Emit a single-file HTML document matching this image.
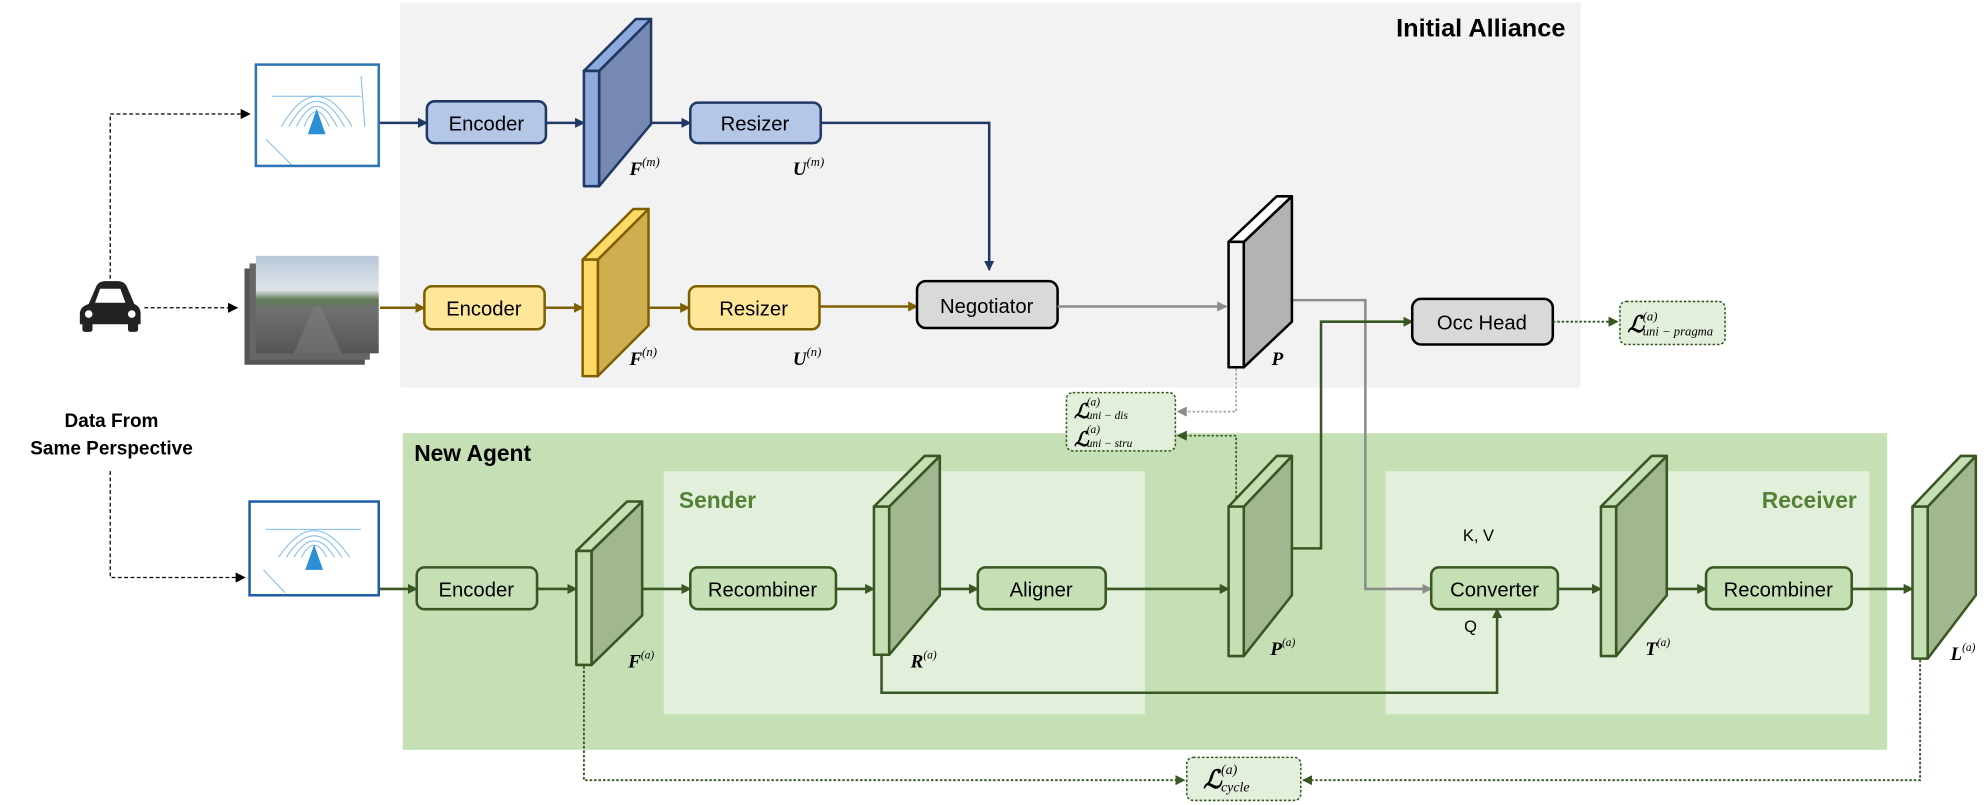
<!DOCTYPE html>
<html><head><meta charset="utf-8"><style>
html,body{margin:0;padding:0;background:#fff;}
svg{display:block;}
.t{font-family:"Liberation Sans","DejaVu Sans",sans-serif;}
.m{font-family:"Liberation Serif","DejaVu Serif",serif;font-style:italic;font-weight:bold;}
.s{font-family:"Liberation Serif","DejaVu Serif",serif;font-style:italic;}
</style></head><body>
<svg width="1986" height="805" viewBox="0 0 1568 635.6" xmlns="http://www.w3.org/2000/svg">
<defs>
<marker id="ab" markerWidth="8" markerHeight="8" refX="7" refY="4" orient="auto" markerUnits="userSpaceOnUse"><path d="M0,0 L8,4 L0,8z" fill="#203864"/></marker>
<marker id="ay" markerWidth="8" markerHeight="8" refX="7" refY="4" orient="auto" markerUnits="userSpaceOnUse"><path d="M0,0 L8,4 L0,8z" fill="#7f6000"/></marker>
<marker id="ag" markerWidth="8" markerHeight="8" refX="7" refY="4" orient="auto" markerUnits="userSpaceOnUse"><path d="M0,0 L8,4 L0,8z" fill="#385723"/></marker>
<marker id="agr" markerWidth="8" markerHeight="8" refX="7" refY="4" orient="auto" markerUnits="userSpaceOnUse"><path d="M0,0 L8,4 L0,8z" fill="#8c8c8c"/></marker>
<marker id="ak" markerWidth="8" markerHeight="8" refX="7" refY="4" orient="auto" markerUnits="userSpaceOnUse"><path d="M0,0 L8,4 L0,8z" fill="#000"/></marker>
<linearGradient id="sky" x1="0" y1="0" x2="0" y2="1"><stop offset="0" stop-color="#b8c8d8"/><stop offset="0.35" stop-color="#dfe5ea"/><stop offset="0.45" stop-color="#5f7a55"/><stop offset="0.55" stop-color="#707070"/><stop offset="1" stop-color="#555"/></linearGradient>
</defs>

<rect x="316" y="2" width="932" height="304" fill="#f2f2f2"/>
<text x="1236" y="29" text-anchor="end" class="t" font-size="20" font-weight="bold">Initial Alliance</text>
<rect x="318" y="342" width="1172" height="250" fill="#c5e0b4"/>
<rect x="524" y="372" width="380" height="192" fill="#e2efda"/>
<rect x="1094" y="372" width="382" height="192" fill="#e2efda"/>
<text x="327" y="364" class="t" font-size="18" font-weight="bold">New Agent</text>
<text x="536" y="401" class="t" font-size="18" font-weight="bold" fill="#548235">Sender</text>
<text x="1466" y="401" text-anchor="end" class="t" font-size="18" font-weight="bold" fill="#548235">Receiver</text>

<g fill="#222">
<path d="M70,240 L76,226 Q78,222 83,222 L93,222 Q98,222 100,226 L106,240 Q111,242 111,248 L111,256 L63,256 L63,248 Q63,242 70,240Z"/>
<rect x="65" y="254" width="8" height="8" rx="2"/><rect x="101" y="254" width="8" height="8" rx="2"/>
</g>
<path d="M75,239 L79,228 L95,228 L99,239Z" fill="#fff"/>
<circle cx="70" cy="248" r="3" fill="#fff"/><circle cx="104" cy="248" r="3" fill="#fff"/>
<text x="88" y="337" text-anchor="middle" class="t" font-size="15" font-weight="bold">Data From</text>
<text x="88" y="359" text-anchor="middle" class="t" font-size="15" font-weight="bold">Same Perspective</text>

<g stroke="#000" stroke-width="1" fill="none" stroke-dasharray="3,2">
<path d="M87,220 L87,90 L197,90" marker-end="url(#ak)"/>
<path d="M114,243 L187,243" marker-end="url(#ak)"/>
<path d="M87,372 L87,456 L193,456" marker-end="url(#ak)"/>
</g>

<g>
<rect x="202" y="51" width="97" height="80" fill="#fff" stroke="#2e75b6" stroke-width="2"/>
<g fill="none" stroke="#7dbbe8" stroke-width="0.8"><path d="M222,100 Q250,52 278,100"/><path d="M228,100 Q250,60 272,100"/><path d="M234,100 Q250,68 266,100"/><path d="M240,100 Q250,76 260,100"/><path d="M215,76 L285,76"/><path d="M210,110 L230,130"/><path d="M285,60 L288,100"/></g>
<path d="M243,106 L250,86 L257,106Z" fill="#2b8fd6"/>
</g>
<g>
<rect x="197" y="396" width="102" height="74" fill="#fff" stroke="#1f5fa8" stroke-width="2"/>
<g fill="none" stroke="#7dbbe8" stroke-width="0.8"><path d="M220,440 Q248,398 276,440"/><path d="M226,440 Q248,406 270,440"/><path d="M232,440 Q248,414 264,440"/><path d="M238,440 Q248,421 258,440"/><path d="M210,418 L285,418"/><path d="M208,450 L225,468"/></g>
<path d="M241,450 L248,430 L255,450Z" fill="#2b8fd6"/>
</g>
<rect x="193" y="212" width="95" height="76" fill="#555"/>
<rect x="197" y="208" width="95" height="76" fill="#666"/>
<rect x="202" y="202" width="97" height="77" fill="url(#sky)"/>
<path d="M232,279 L248,242 L253,242 L270,279Z" fill="#808080" opacity="0.5"/>

<g stroke="#203864" stroke-width="2" fill="none">
<path d="M300,97 L337,97" marker-end="url(#ab)"/>
<path d="M431,97 L461,97" marker-end="url(#ab)"/>
<path d="M514,97 L545,97" marker-end="url(#ab)"/>
<path d="M648,97 L781,97 L781,213" marker-end="url(#ab)"/>
</g>
<rect x="337" y="80" width="94" height="33" rx="6" fill="#b4c7e7" stroke="#203864" stroke-width="2"/>
<text x="384" y="103" text-anchor="middle" class="t" font-size="16">Encoder</text>
<rect x="545" y="81" width="103" height="32" rx="6" fill="#b4c7e7" stroke="#203864" stroke-width="2"/>
<text x="596" y="103" text-anchor="middle" class="t" font-size="16">Resizer</text>
<g stroke="#203864" stroke-width="2" stroke-linejoin="round">
<polygon points="473,56 514,15 514,98 473,147" fill="#7689b2"/>
<polygon points="461,56 502,15 514,15 473,56" fill="#8faadc"/>
<rect x="461" y="56" width="12" height="91" fill="#8faadc"/>
</g>
<text x="497" y="138" class="m" font-size="15">F<tspan class="s" font-weight="normal" font-size="10" dy="-7">(m)</tspan></text>
<text x="626" y="138" class="m" font-size="15">U<tspan class="s" font-weight="normal" font-size="10" dy="-7">(m)</tspan></text>

<g stroke="#7f6000" stroke-width="2" fill="none">
<path d="M300,243 L335,243" marker-end="url(#ay)"/>
<path d="M430,243 L460,243" marker-end="url(#ay)"/>
<path d="M513,243 L544,243" marker-end="url(#ay)"/>
<path d="M647,242 L724,242" marker-end="url(#ay)"/>
</g>
<rect x="335" y="226" width="95" height="34" rx="6" fill="#ffe699" stroke="#7f6000" stroke-width="2"/>
<text x="382" y="249" text-anchor="middle" class="t" font-size="16">Encoder</text>
<rect x="544" y="226" width="103" height="34" rx="6" fill="#ffe699" stroke="#7f6000" stroke-width="2"/>
<text x="595" y="249" text-anchor="middle" class="t" font-size="16">Resizer</text>
<g stroke="#7f6000" stroke-width="2" stroke-linejoin="round">
<polygon points="472,205 512,165 512,257 472,297" fill="#cfae50"/>
<polygon points="460,205 500,165 512,165 472,205" fill="#ffd966"/>
<rect x="460" y="205" width="12" height="92" fill="#ffd966"/>
</g>
<text x="497" y="288" class="m" font-size="15">F<tspan class="s" font-weight="normal" font-size="10" dy="-7">(n)</tspan></text>
<text x="626" y="288" class="m" font-size="15">U<tspan class="s" font-weight="normal" font-size="10" dy="-7">(n)</tspan></text>

<rect x="724" y="222" width="111" height="37" rx="7" fill="#d9d9d9" stroke="#000" stroke-width="2"/>
<text x="779" y="247" text-anchor="middle" class="t" font-size="16">Negotiator</text>

<g stroke="#8c8c8c" stroke-width="2" fill="none">
<path d="M835,242 L968,242" marker-end="url(#agr)"/>
<path d="M1020,237 L1078,237 L1078,465 L1130,465" marker-end="url(#agr)"/>
</g>
<g stroke="#000" stroke-width="2" stroke-linejoin="round">
<polygon points="982,191 1020,155 1020,254 982,290" fill="#b3b3b3"/>
<polygon points="970,191 1008,155 1020,155 982,191" fill="#fff"/>
<rect x="970" y="191" width="12" height="99" fill="#f2f2f2"/>
</g>
<text x="1004" y="288" class="m" font-size="15">P</text>

<path d="M1020,433 L1043,433 L1043,254 L1115,254" stroke="#385723" stroke-width="2" fill="none" marker-end="url(#ag)"/>
<rect x="1115" y="236" width="111" height="36" rx="7" fill="#d9d9d9" stroke="#000" stroke-width="2"/>
<text x="1170" y="260" text-anchor="middle" class="t" font-size="16">Occ Head</text>
<path d="M1226,254 L1277,254" stroke="#385723" stroke-width="1.5" stroke-dasharray="2,1.5" fill="none" marker-end="url(#ag)"/>
<rect x="1279" y="238" width="83" height="34" rx="5" fill="#e2efda" stroke="#385723" stroke-width="1.2" stroke-dasharray="2,1.5"/>
<text x="1285" y="262" class="s" font-size="18" font-weight="bold">ℒ</text>
<text x="1297" y="253" class="s" font-size="10">(a)</text>
<text x="1297" y="265" class="s" font-size="10">uni − pragma</text>

<rect x="842" y="310" width="86" height="46" rx="5" fill="#e2efda" stroke="#385723" stroke-width="1.2" stroke-dasharray="2,1.5"/>
<text x="848" y="330" class="s" font-size="16" font-weight="bold">ℒ</text>
<text x="858" y="320" class="s" font-size="9">(a)</text>
<text x="858" y="331" class="s" font-size="9">uni − dis</text>
<text x="848" y="352" class="s" font-size="16" font-weight="bold">ℒ</text>
<text x="858" y="342" class="s" font-size="9">(a)</text>
<text x="858" y="353" class="s" font-size="9">uni − stru</text>
<path d="M976,291 L976,325 L930,325" stroke="#a6a6a6" stroke-width="1.3" stroke-dasharray="2,1.5" fill="none" marker-end="url(#agr)"/>
<path d="M976,400 L976,344 L930,344" stroke="#385723" stroke-width="1.3" stroke-dasharray="2,1.5" fill="none" marker-end="url(#ag)"/>

<g stroke="#385723" stroke-width="2" fill="none">
<path d="M300,465 L329,465" marker-end="url(#ag)"/>
<path d="M424,465 L455,465" marker-end="url(#ag)"/>
<path d="M507,465 L545,465" marker-end="url(#ag)"/>
<path d="M660,465 L690,465" marker-end="url(#ag)"/>
<path d="M742,465 L772,465" marker-end="url(#ag)"/>
<path d="M873,465 L970,465" marker-end="url(#ag)"/>
<path d="M1230,465 L1264,465" marker-end="url(#ag)"/>
<path d="M1316,465 L1347,465" marker-end="url(#ag)"/>
<path d="M1462,465 L1510,465" marker-end="url(#ag)"/>
<path d="M696,517 L696,547 L1182,547 L1182,481" marker-end="url(#ag)"/>
</g>
<g fill="#c5e0b4" stroke="#385723" stroke-width="2">
<rect x="329" y="448" width="95" height="33" rx="6"/>
<rect x="545" y="448" width="115" height="33" rx="6"/>
<rect x="772" y="448" width="101" height="33" rx="6"/>
<rect x="1130" y="448" width="100" height="33" rx="6"/>
<rect x="1347" y="448" width="115" height="33" rx="6"/>
</g>
<g class="t" font-size="16" text-anchor="middle">
<text x="376" y="471">Encoder</text>
<text x="602" y="471">Recombiner</text>
<text x="822" y="471">Aligner</text>
<text x="1180" y="471">Converter</text>
<text x="1404" y="471">Recombiner</text>
</g>
<text x="1155" y="427" class="t" font-size="13">K, V</text>
<text x="1156" y="499" class="t" font-size="13">Q</text>

<g stroke="#385723" stroke-width="2" stroke-linejoin="round">
<polygon points="467,435 507,396 507,486 467,525" fill="#a0b790"/>
<polygon points="455,435 495,396 507,396 467,435" fill="#c5e0b4"/>
<rect x="455" y="435" width="12" height="90" fill="#c5e0b4"/>

<polygon points="702,400 742,360 742,470 702,517" fill="#a0b790"/>
<polygon points="690,400 730,360 742,360 702,400" fill="#c5e0b4"/>
<rect x="690" y="400" width="12" height="117" fill="#c5e0b4"/>

<polygon points="982,400 1020,360 1020,470 982,518" fill="#a0b790"/>
<polygon points="970,400 1008,360 1020,360 982,400" fill="#c5e0b4"/>
<rect x="970" y="400" width="12" height="118" fill="#c5e0b4"/>

<polygon points="1276,400 1316,360 1316,470 1276,518" fill="#a0b790"/>
<polygon points="1264,400 1304,360 1316,360 1276,400" fill="#c5e0b4"/>
<rect x="1264" y="400" width="12" height="118" fill="#c5e0b4"/>

<polygon points="1522,400 1560,360 1560,470 1522,520" fill="#a0b790"/>
<polygon points="1510,400 1548,360 1560,360 1522,400" fill="#c5e0b4"/>
<rect x="1510" y="400" width="12" height="120" fill="#c5e0b4"/>
</g>
<g class="m" font-size="15">
<text x="496" y="527">F<tspan class="s" font-weight="normal" font-size="9" dy="-7">(a)</tspan></text>
<text x="719" y="527">R<tspan class="s" font-weight="normal" font-size="9" dy="-7">(a)</tspan></text>
<text x="1003" y="517">P<tspan class="s" font-weight="normal" font-size="9" dy="-7">(a)</tspan></text>
<text x="1299" y="517">T<tspan class="s" font-weight="normal" font-size="9" dy="-7">(a)</tspan></text>
<text x="1540" y="521">L<tspan class="s" font-weight="normal" font-size="9" dy="-7">(a)</tspan></text>
</g>

<path d="M461,526 L461,616 L935,616" stroke="#385723" stroke-width="1.5" stroke-dasharray="2,1.5" fill="none" marker-end="url(#ag)"/>
<path d="M1516,521 L1516,616 L1029,616" stroke="#385723" stroke-width="1.5" stroke-dasharray="2,1.5" fill="none" marker-end="url(#ag)"/>
<rect x="937" y="598" width="90" height="34" rx="5" fill="#e2efda" stroke="#385723" stroke-width="1.2" stroke-dasharray="2,1.5"/>
<text x="950" y="622" class="s" font-size="20" font-weight="bold">ℒ</text>
<text x="964" y="611" class="s" font-size="11">(a)</text>
<text x="964" y="625" class="s" font-size="11">cycle</text>
</svg>
</body></html>
